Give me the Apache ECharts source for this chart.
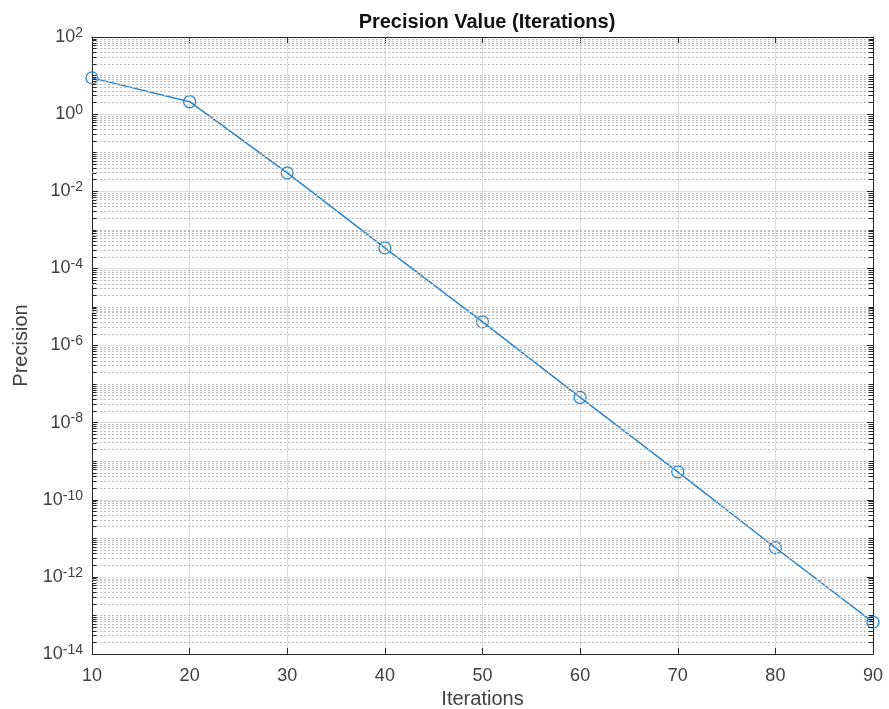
<!DOCTYPE html>
<html>
<head>
<meta charset="utf-8">
<script src="https://cdn.jsdelivr.net/npm/echarts@6/dist/echarts.min.js"></script>
<style>
    html, body { margin: 0; padding: 0; background: #fff; }
    #chart { width: 889px; height: 709px; }
</style>
</head>
<body>
<div id="chart"></div>
<script>
    // values
    let iterations = [10, 20, 30, 40, 50, 60, 70, 80, 90];
    let precision = [8.7, 2.1, 3.0e-2, 3.4e-4, 4.1e-6, 4.5e-8, 5.3e-10, 5.7e-12, 6.7e-14];
    let yMinExp = -14;
    let yMaxExp = 2;
    let xMin = 10;
    let xMax = 90;

    let lineColor = '#2a85cc';
    let textColor = '#404040';
    let axisColor = '#262626';
    let font = 'Liberation Sans';

    // minor grid + minor ticks, in log10 units on a hidden linear axis
    let minorLines = [];
    let minorTicks = [];
    let tickLen = 0.45; // in x units
    for (let n = yMinExp; n < yMaxExp; n++) {
        let vals = [];
        if ((n - yMinExp) % 2 === 1) vals.push(n);
        for (let k = 2; k <= 9; k++) vals.push(n + Math.log10(k));
        vals.forEach(function (v) {
            minorLines.push({ yAxis: v });
            minorTicks.push([{ coord: [xMin, v] }, { coord: [xMin + tickLen, v] }]);
            minorTicks.push([{ coord: [xMax - tickLen, v] }, { coord: [xMax, v] }]);
        });
    }

    let myChart = echarts.init(document.getElementById('chart'));
    myChart.setOption({
        backgroundColor: '#fff',
        animation: false,
        title: {
            text: 'Precision Value (Iterations)',
            left: 482,
            textAlign: 'center',
            top: 7,
            textStyle: { fontFamily: font, fontSize: 20, fontWeight: 'bold', color: '#111' }
        },
        grid: { left: 92, right: 16, top: 37, bottom: 55, outerBoundsMode: 'none' },
        xAxis: [{
            type: 'value',
            min: xMin,
            max: xMax,
            interval: 10,
            name: 'Iterations',
            nameLocation: 'middle',
            nameGap: 35,
            nameTextStyle: { fontFamily: font, fontSize: 20, color: textColor },
            axisLine: { onZero: false, lineStyle: { color: axisColor, width: 1 } },
            axisTick: { inside: true, length: 6, lineStyle: { color: axisColor } },
            axisLabel: { fontFamily: font, fontSize: 18, color: textColor, margin: 13 },
            splitLine: { show: true, lineStyle: { color: '#dcdcdc', width: 1 } }
        }, {
            type: 'value',
            position: 'top',
            min: xMin,
            max: xMax,
            interval: 10,
            axisLine: { show: true, onZero: false, lineStyle: { color: axisColor, width: 1 } },
            axisTick: { show: true, inside: true, length: 6, lineStyle: { color: axisColor } },
            axisLabel: { show: false },
            splitLine: { show: false }
        }],
        yAxis: [{
            type: 'log',
            logBase: 10,
            min: Math.pow(10, yMinExp),
            max: Math.pow(10, yMaxExp),
            interval: 2,
            name: 'Precision',
            nameLocation: 'middle',
            nameGap: 60,
            nameTextStyle: { fontFamily: font, fontSize: 20, color: textColor },
            axisLine: { show: true, onZero: false, lineStyle: { color: axisColor, width: 1 } },
            axisTick: { show: true, inside: true, length: 6, lineStyle: { color: axisColor } },
            axisLabel: {
                margin: 9,
                formatter: function (v) {
                    let e = Math.round(Math.log10(v));
                    return '{b|10}{s|' + e + '}';
                },
                rich: {
                    b: { fontFamily: font, fontSize: 18, color: textColor, lineHeight: 22, verticalAlign: 'middle' },
                    s: { fontFamily: font, fontSize: 14, color: textColor, lineHeight: 22, verticalAlign: 'top' }
                }
            },
            splitLine: { show: true, lineStyle: { color: '#dcdcdc', width: 1 } }
        }, {
            type: 'log',
            logBase: 10,
            position: 'right',
            min: Math.pow(10, yMinExp),
            max: Math.pow(10, yMaxExp),
            interval: 2,
            axisLine: { show: true, onZero: false, lineStyle: { color: axisColor, width: 1 } },
            axisTick: { show: true, inside: true, length: 6, lineStyle: { color: axisColor } },
            axisLabel: { show: false },
            splitLine: { show: false }
        }, {
            type: 'value',
            show: false,
            min: yMinExp,
            max: yMaxExp,
            axisLine: { onZero: false }
        }],
        series: [{
            type: 'line',
            data: [],
            yAxisIndex: 2,
            z: 1,
            markLine: {
                silent: true,
                symbol: 'none',
                animation: false,
                label: { show: false },
                lineStyle: { color: '#bcbcbc', type: [2, 2], width: 1 },
                data: minorLines
            }
        }, {
            type: 'line',
            data: [],
            yAxisIndex: 2,
            z: 4,
            markLine: {
                silent: true,
                symbol: 'none',
                animation: false,
                label: { show: false },
                lineStyle: { color: axisColor, type: 'solid', width: 1 },
                data: minorTicks
            }
        }, {
            name: 'Precision',
            type: 'line',
            z: 3,
            data: iterations.map(function (x, i) { return [x, precision[i]]; }),
            symbol: 'circle',
            symbolSize: 12,
            showAllSymbol: true,
            lineStyle: { color: lineColor, width: 1.5 },
            itemStyle: { color: 'rgba(0,0,0,0)', borderColor: lineColor, borderWidth: 1.3 }
        }]
    });
</script>
</body>
</html>
